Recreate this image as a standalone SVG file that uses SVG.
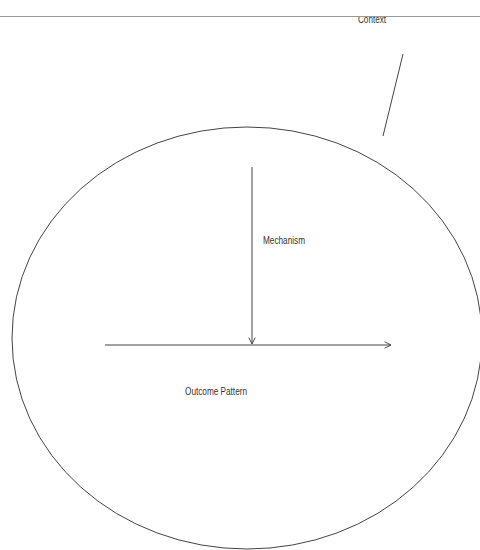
<svg xmlns="http://www.w3.org/2000/svg" width="480" height="550" viewBox="0 0 480 550">
<style>
.t{font-family:"Liberation Sans",Arial,sans-serif;font-size:11px;fill:#333}
.ln{stroke:#444;stroke-width:1;fill:none}
</style>
<defs>
<marker id="open" viewBox="0 0 10 10" refX="9" refY="5" markerWidth="8" markerHeight="8" markerUnits="userSpaceOnUse" orient="auto">
<path d="M1,1 L9,5 L1,9" fill="none" stroke="#444" stroke-width="1.2"/>
</marker>
<clipPath id="ctxclip"><rect x="0" y="17" width="480" height="20"/></clipPath>
</defs>
<rect width="480" height="550" fill="#fff"/>
<line x1="0" y1="16.5" x2="480" y2="16.5" stroke="#999" stroke-width="1"/>
<g id="context">
<text class="t" x="358" y="23" textLength="28" lengthAdjust="spacingAndGlyphs" clip-path="url(#ctxclip)">Context</text>
</g>
<g id="outcome-region">
<ellipse class="ln" cx="247" cy="338" rx="235" ry="211"/>
</g>
<g id="connectors">
<line class="ln" x1="403" y1="54" x2="383" y2="136"/>
<line class="ln" x1="252" y1="167" x2="252" y2="344" marker-end="url(#open)"/>
<line class="ln" x1="105" y1="345" x2="391" y2="345" stroke-width="1.3" marker-end="url(#open)"/>
</g>
<g id="mechanism">
<text class="t" x="263" y="244" textLength="42" lengthAdjust="spacingAndGlyphs">Mechanism</text>
</g>
<g id="outcome-pattern">
<text class="t" x="185" y="395" textLength="62" lengthAdjust="spacingAndGlyphs">Outcome Pattern</text>
</g>
</svg>
